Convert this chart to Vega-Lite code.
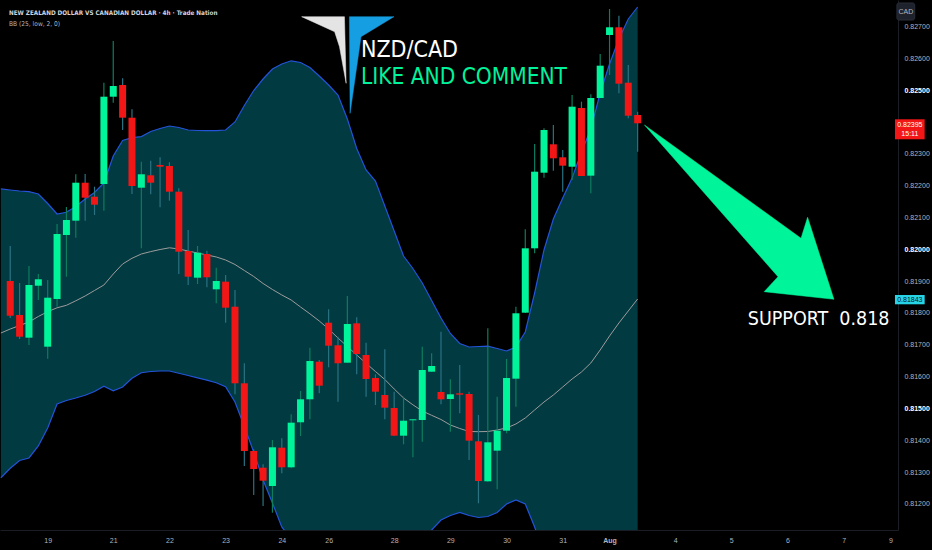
{
  "$schema": "https://vega.github.io/schema/vega-lite/v6.json",
  "width": 898,
  "height": 530,
  "autosize": {"type": "none"},
  "padding": {"left": 0, "top": 0, "right": 34, "bottom": 20},
  "background": "#000000",
  "config": {
    "view": {"stroke": null},
    "axis": {"labelFont": "Liberation Sans", "grid": false, "ticks": false, "title": null, "labelOverlap": false},
    "text": {"font": "DejaVu Sans Condensed"}
  },
  "datasets": {
    "bands": [
      {"i": -1, "up": 0.82190, "mid": 0.81737, "lo": 0.81282},
      {"i": 0, "up": 0.821866, "mid": 0.817496, "lo": 0.813117},
      {"i": 1, "up": 0.821835, "mid": 0.817606, "lo": 0.813362},
      {"i": 2, "up": 0.821813, "mid": 0.817716, "lo": 0.813441},
      {"i": 3, "up": 0.821740, "mid": 0.817889, "lo": 0.813818},
      {"i": 4, "up": 0.821442, "mid": 0.818040, "lo": 0.814384},
      {"i": 5, "up": 0.821111, "mid": 0.818163, "lo": 0.815138},
      {"i": 6, "up": 0.821165, "mid": 0.818241, "lo": 0.815249},
      {"i": 7, "up": 0.821347, "mid": 0.818383, "lo": 0.815327},
      {"i": 8, "up": 0.821583, "mid": 0.818534, "lo": 0.815412},
      {"i": 9, "up": 0.821787, "mid": 0.818707, "lo": 0.815531},
      {"i": 10, "up": 0.822086, "mid": 0.818879, "lo": 0.815695},
      {"i": 11, "up": 0.822935, "mid": 0.819225, "lo": 0.815553},
      {"i": 12, "up": 0.823422, "mid": 0.819540, "lo": 0.815673},
      {"i": 13, "up": 0.823510, "mid": 0.819719, "lo": 0.815946},
      {"i": 14, "up": 0.823545, "mid": 0.819854, "lo": 0.816122},
      {"i": 15, "up": 0.823705, "mid": 0.819929, "lo": 0.816160},
      {"i": 16, "up": 0.823799, "mid": 0.819995, "lo": 0.816176},
      {"i": 17, "up": 0.823878, "mid": 0.820049, "lo": 0.816176},
      {"i": 18, "up": 0.823831, "mid": 0.820011, "lo": 0.816104},
      {"i": 19, "up": 0.823752, "mid": 0.819948, "lo": 0.816034},
      {"i": 20, "up": 0.823736, "mid": 0.819885, "lo": 0.815962},
      {"i": 21, "up": 0.823730, "mid": 0.819823, "lo": 0.815887},
      {"i": 22, "up": 0.823730, "mid": 0.819760, "lo": 0.815805},
      {"i": 23, "up": 0.823752, "mid": 0.819665, "lo": 0.815679},
      {"i": 24, "up": 0.824004, "mid": 0.819524, "lo": 0.815201},
      {"i": 25, "up": 0.824522, "mid": 0.819335, "lo": 0.814431},
      {"i": 26, "up": 0.824994, "mid": 0.819147, "lo": 0.813629},
      {"i": 27, "up": 0.825355, "mid": 0.818927, "lo": 0.812749},
      {"i": 28, "up": 0.825670, "mid": 0.818738, "lo": 0.812026},
      {"i": 29, "up": 0.825827, "mid": 0.818565, "lo": 0.811272},
      {"i": 30, "up": 0.825928, "mid": 0.818408, "lo": 0.810894},
      {"i": 31, "up": 0.825874, "mid": 0.818188, "lo": 0.810502},
      {"i": 32, "up": 0.825717, "mid": 0.817974, "lo": 0.810234},
      {"i": 33, "up": 0.825450, "mid": 0.817748, "lo": 0.810046},
      {"i": 34, "up": 0.825167, "mid": 0.817496, "lo": 0.809826},
      {"i": 35, "up": 0.824852, "mid": 0.817213, "lo": 0.809574},
      {"i": 36, "up": 0.824098, "mid": 0.816946, "lo": 0.809794},
      {"i": 37, "up": 0.823171, "mid": 0.816679, "lo": 0.810187},
      {"i": 38, "up": 0.822495, "mid": 0.816418, "lo": 0.810341},
      {"i": 39, "up": 0.822149, "mid": 0.816160, "lo": 0.810171},
      {"i": 40, "up": 0.821363, "mid": 0.815909, "lo": 0.810454},
      {"i": 41, "up": 0.820577, "mid": 0.815610, "lo": 0.810643},
      {"i": 42, "up": 0.819791, "mid": 0.815327, "lo": 0.810863},
      {"i": 43, "up": 0.819398, "mid": 0.815113, "lo": 0.810832},
      {"i": 44, "up": 0.818942, "mid": 0.814918, "lo": 0.810894},
      {"i": 45, "up": 0.818392, "mid": 0.814783, "lo": 0.811177},
      {"i": 46, "up": 0.817842, "mid": 0.814651, "lo": 0.811492},
      {"i": 47, "up": 0.817355, "mid": 0.814478, "lo": 0.811633},
      {"i": 48, "up": 0.817040, "mid": 0.814368, "lo": 0.811728},
      {"i": 49, "up": 0.816930, "mid": 0.814274, "lo": 0.811633},
      {"i": 50, "up": 0.816946, "mid": 0.814268, "lo": 0.811570},
      {"i": 51, "up": 0.816956, "mid": 0.814274, "lo": 0.811602},
      {"i": 52, "up": 0.816883, "mid": 0.814321, "lo": 0.811728},
      {"i": 53, "up": 0.816805, "mid": 0.814384, "lo": 0.811995},
      {"i": 54, "up": 0.816930, "mid": 0.814510, "lo": 0.812120},
      {"i": 55, "up": 0.817402, "mid": 0.814698, "lo": 0.811995},
      {"i": 56, "up": 0.818628, "mid": 0.814950, "lo": 0.811272},
      {"i": 57, "up": 0.819980, "mid": 0.815201, "lo": 0.810423},
      {"i": 58, "up": 0.820954, "mid": 0.815421, "lo": 0.809888},
      {"i": 59, "up": 0.821614, "mid": 0.815673, "lo": 0.809731},
      {"i": 60, "up": 0.822243, "mid": 0.815924, "lo": 0.809606},
      {"i": 61, "up": 0.823061, "mid": 0.816144, "lo": 0.809228},
      {"i": 62, "up": 0.823784, "mid": 0.816427, "lo": 0.809071},
      {"i": 63, "up": 0.824915, "mid": 0.816836, "lo": 0.808757},
      {"i": 64, "up": 0.825827, "mid": 0.817276, "lo": 0.808725},
      {"i": 65, "up": 0.826613, "mid": 0.817685, "lo": 0.808757},
      {"i": 66, "up": 0.827242, "mid": 0.818062, "lo": 0.808882},
      {"i": 67, "up": 0.827619, "mid": 0.818439, "lo": 0.809260}
    ],
    "candles": [
      {"i": 0, "o": 0.819005, "h": 0.820105, "l": 0.817842, "c": 0.817914},
      {"i": 1, "o": 0.817936, "h": 0.818942, "l": 0.817182, "c": 0.817254},
      {"i": 2, "o": 0.817223, "h": 0.819477, "l": 0.816993, "c": 0.818879},
      {"i": 3, "o": 0.818857, "h": 0.819225, "l": 0.818408, "c": 0.819059},
      {"i": 4, "o": 0.816940, "h": 0.819037, "l": 0.816563, "c": 0.818480},
      {"i": 5, "o": 0.818439, "h": 0.820797, "l": 0.818197, "c": 0.820483},
      {"i": 6, "o": 0.820451, "h": 0.821332, "l": 0.819140, "c": 0.820923},
      {"i": 7, "o": 0.820901, "h": 0.822360, "l": 0.820366, "c": 0.822095},
      {"i": 8, "o": 0.822095, "h": 0.822369, "l": 0.820901, "c": 0.821624},
      {"i": 9, "o": 0.821655, "h": 0.821970, "l": 0.821080, "c": 0.821404},
      {"i": 10, "o": 0.822055, "h": 0.825239, "l": 0.821215, "c": 0.824799},
      {"i": 11, "o": 0.824799, "h": 0.826550, "l": 0.824610, "c": 0.825135},
      {"i": 12, "o": 0.825167, "h": 0.825378, "l": 0.823752, "c": 0.824139},
      {"i": 13, "o": 0.824139, "h": 0.824403, "l": 0.821740, "c": 0.821992},
      {"i": 14, "o": 0.821938, "h": 0.822756, "l": 0.820033, "c": 0.822360},
      {"i": 15, "o": 0.822328, "h": 0.822787, "l": 0.821731, "c": 0.822095},
      {"i": 16, "o": 0.822652, "h": 0.822894, "l": 0.821322, "c": 0.822598},
      {"i": 17, "o": 0.822620, "h": 0.822737, "l": 0.821530, "c": 0.821813},
      {"i": 18, "o": 0.821813, "h": 0.821919, "l": 0.819225, "c": 0.819926},
      {"i": 19, "o": 0.819948, "h": 0.820608, "l": 0.818879, "c": 0.819140},
      {"i": 20, "o": 0.819109, "h": 0.820105, "l": 0.818911, "c": 0.819895},
      {"i": 21, "o": 0.819854, "h": 0.819958, "l": 0.818807, "c": 0.819122},
      {"i": 22, "o": 0.818744, "h": 0.819423, "l": 0.818304, "c": 0.819005},
      {"i": 23, "o": 0.818983, "h": 0.819194, "l": 0.817694, "c": 0.818166},
      {"i": 24, "o": 0.818197, "h": 0.818722, "l": 0.815443, "c": 0.815789},
      {"i": 25, "o": 0.815789, "h": 0.816418, "l": 0.813189, "c": 0.813661},
      {"i": 26, "o": 0.813661, "h": 0.813714, "l": 0.812278, "c": 0.813095},
      {"i": 27, "o": 0.813136, "h": 0.813243, "l": 0.811932, "c": 0.812727},
      {"i": 28, "o": 0.812561, "h": 0.814007, "l": 0.811721, "c": 0.813777},
      {"i": 29, "o": 0.813765, "h": 0.814060, "l": 0.812960, "c": 0.813148},
      {"i": 30, "o": 0.813148, "h": 0.814815, "l": 0.813117, "c": 0.814551},
      {"i": 31, "o": 0.814563, "h": 0.815547, "l": 0.814132, "c": 0.815286},
      {"i": 32, "o": 0.815286, "h": 0.816908, "l": 0.814657, "c": 0.816490},
      {"i": 33, "o": 0.816468, "h": 0.816522, "l": 0.815475, "c": 0.815714},
      {"i": 34, "o": 0.817694, "h": 0.818116, "l": 0.816292, "c": 0.816971},
      {"i": 35, "o": 0.816984, "h": 0.817254, "l": 0.815211, "c": 0.816418},
      {"i": 36, "o": 0.816437, "h": 0.818534, "l": 0.816437, "c": 0.817653},
      {"i": 37, "o": 0.817675, "h": 0.817864, "l": 0.816072, "c": 0.816710},
      {"i": 38, "o": 0.816679, "h": 0.817066, "l": 0.815368, "c": 0.815924},
      {"i": 39, "o": 0.815956, "h": 0.816072, "l": 0.815107, "c": 0.815525},
      {"i": 40, "o": 0.815421, "h": 0.816858, "l": 0.814657, "c": 0.815022},
      {"i": 41, "o": 0.815013, "h": 0.815525, "l": 0.814132, "c": 0.814142},
      {"i": 42, "o": 0.814142, "h": 0.815368, "l": 0.813872, "c": 0.814613},
      {"i": 43, "o": 0.814626, "h": 0.814657, "l": 0.813463, "c": 0.814657},
      {"i": 44, "o": 0.814635, "h": 0.816940, "l": 0.813953, "c": 0.816207},
      {"i": 45, "o": 0.816154, "h": 0.816732, "l": 0.816154, "c": 0.816333},
      {"i": 46, "o": 0.815516, "h": 0.817411, "l": 0.815129, "c": 0.815286},
      {"i": 47, "o": 0.815296, "h": 0.815915, "l": 0.814268, "c": 0.815443},
      {"i": 48, "o": 0.815475, "h": 0.816364, "l": 0.814846, "c": 0.815431},
      {"i": 49, "o": 0.815453, "h": 0.815525, "l": 0.813378, "c": 0.813985},
      {"i": 50, "o": 0.813966, "h": 0.814793, "l": 0.812017, "c": 0.812718},
      {"i": 51, "o": 0.812708, "h": 0.817518, "l": 0.812696, "c": 0.813934},
      {"i": 52, "o": 0.813671, "h": 0.815368, "l": 0.812457, "c": 0.814299},
      {"i": 53, "o": 0.814299, "h": 0.816553, "l": 0.814217, "c": 0.815956},
      {"i": 54, "o": 0.815934, "h": 0.818197, "l": 0.815054, "c": 0.817990},
      {"i": 55, "o": 0.818009, "h": 0.820630, "l": 0.817999, "c": 0.820033},
      {"i": 56, "o": 0.820033, "h": 0.823312, "l": 0.819876, "c": 0.822441},
      {"i": 57, "o": 0.822410, "h": 0.823806, "l": 0.822253, "c": 0.823752},
      {"i": 58, "o": 0.823303, "h": 0.823909, "l": 0.822473, "c": 0.822863},
      {"i": 59, "o": 0.822894, "h": 0.823123, "l": 0.821813, "c": 0.822630},
      {"i": 60, "o": 0.822598, "h": 0.824852, "l": 0.822180, "c": 0.824485},
      {"i": 61, "o": 0.824444, "h": 0.824642, "l": 0.822306, "c": 0.822306},
      {"i": 62, "o": 0.822316, "h": 0.824875, "l": 0.821762, "c": 0.824758},
      {"i": 63, "o": 0.824758, "h": 0.826141, "l": 0.824758, "c": 0.825774},
      {"i": 64, "o": 0.826739, "h": 0.827556, "l": 0.825481, "c": 0.826981},
      {"i": 65, "o": 0.826981, "h": 0.827345, "l": 0.824906, "c": 0.825208},
      {"i": 66, "o": 0.825239, "h": 0.825796, "l": 0.824120, "c": 0.824202},
      {"i": 67, "o": 0.824224, "h": 0.824328, "l": 0.823070, "c": 0.823963}
    ],
    "logoWhite": [
      {"k": 0, "i": 31.12, "v": 0.827314},
      {"k": 1, "i": 35.69, "v": 0.827314},
      {"k": 2, "i": 35.87, "v": 0.825220},
      {"k": 3, "i": 35.16, "v": 0.826371},
      {"k": 4, "i": 34.64, "v": 0.826842}
    ],
    "logoBlue": [
      {"k": 0, "i": 36.22, "v": 0.827314},
      {"k": 1, "i": 40.97, "v": 0.827314},
      {"k": 2, "i": 37.46, "v": 0.826685},
      {"k": 3, "i": 36.29, "v": 0.824277}
    ],
    "arrow": [
      {"k": 0, "i": 67.73, "v": 0.823909},
      {"k": 1, "i": 84.45, "v": 0.820348},
      {"k": 2, "i": 85.15, "v": 0.821008},
      {"k": 3, "i": 87.96, "v": 0.818430},
      {"k": 4, "i": 80.51, "v": 0.818669},
      {"k": 5, "i": 81.99, "v": 0.819140}
    ]
  },
  "layer": [
    {
      "data": {"name": "bands"},
      "mark": {"type": "area", "color": "#023a41", "clip": true},
      "encoding": {
        "x": {
          "field": "i", "type": "quantitative", "title": null,
          "scale": {"domain": [-0.56, 94.27], "nice": false, "zero": false},
          "axis": {
            "values": [4, 11, 17, 23, 29, 34, 41, 47, 53, 59, 64, 71, 77, 83, 89, 94],
            "tickCount": 30,
            "labelExpr": "datum.value==4?'19':datum.value==11?'21':datum.value==17?'22':datum.value==23?'23':datum.value==29?'24':datum.value==34?'26':datum.value==41?'28':datum.value==47?'29':datum.value==53?'30':datum.value==59?'31':datum.value==64?'Aug':datum.value==71?'4':datum.value==77?'5':datum.value==83?'6':datum.value==89?'7':'9'",
            "labelFontSize": 7,
            "labelColor": "#b2b5be",
            "labelFontWeight": {"condition": {"test": "datum.value == 64", "value": "bold"}, "value": "normal"},
            "labelPadding": 6,
            "labelOverlap": false,
            "labelFlush": false,
            "domainColor": "#1a1d24"
          }
        },
        "y": {
          "field": "up", "type": "quantitative", "title": null,
          "scale": {"domain": [0.811177, 0.827839], "nice": false, "zero": false},
          "axis": {
            "orient": "right",
            "values": [0.812, 0.813, 0.814, 0.815, 0.816, 0.817, 0.818, 0.819, 0.82, 0.821, 0.822, 0.823, 0.825, 0.826, 0.827],
            "tickCount": 30,
            "format": ".5f",
            "labelFontSize": 7,
            "labelColor": {"condition": {"test": "datum.value == 0.825 || datum.value == 0.82 || datum.value == 0.815", "value": "#ffffff"}, "value": "#b2b5be"},
            "labelFontWeight": {"condition": {"test": "datum.value == 0.825 || datum.value == 0.82 || datum.value == 0.815", "value": "bold"}, "value": "normal"},
            "labelPadding": 6,
            "labelOverlap": false,
            "labelFlush": false,
            "domainColor": "#1a1d24"
          }
        },
        "y2": {"field": "lo"}
      }
    },
    {
      "data": {"name": "bands"},
      "mark": {"type": "line", "color": "#9c9c9c", "strokeWidth": 1, "clip": true},
      "encoding": {
        "x": {"field": "i", "type": "quantitative", "title": null},
        "y": {"field": "mid", "type": "quantitative", "title": null}
      }
    },
    {
      "data": {"name": "bands"},
      "mark": {"type": "line", "color": "#2354d9", "strokeWidth": 1.2, "clip": true},
      "encoding": {
        "x": {"field": "i", "type": "quantitative", "title": null},
        "y": {"field": "up", "type": "quantitative", "title": null}
      }
    },
    {
      "data": {"name": "bands"},
      "mark": {"type": "line", "color": "#2354d9", "strokeWidth": 1.2, "clip": true},
      "encoding": {
        "x": {"field": "i", "type": "quantitative", "title": null},
        "y": {"field": "lo", "type": "quantitative", "title": null}
      }
    },
    {
      "mark": {"type": "rule", "color": "#8a1c1c", "strokeWidth": 1, "strokeDash": [1, 2]},
      "encoding": {"y": {"datum": 0.82395}}
    },
    {
      "data": {"name": "candles"},
      "mark": {"type": "rule", "strokeWidth": 1.2, "clip": true},
      "encoding": {
        "x": {"field": "i", "type": "quantitative", "title": null},
        "y": {"field": "h", "type": "quantitative", "title": null},
        "y2": {"field": "l"},
        "color": {"condition": {"test": "datum.c >= datum.o", "value": "#0c7d5e"}, "value": "#2a7282"}
      }
    },
    {
      "data": {"name": "candles"},
      "mark": {"type": "bar", "width": 7, "clip": true},
      "encoding": {
        "x": {"field": "i", "type": "quantitative", "title": null},
        "y": {"field": "o", "type": "quantitative", "title": null},
        "y2": {"field": "c"},
        "color": {"condition": {"test": "datum.c >= datum.o", "value": "#00f59b"}, "value": "#f21616"}
      }
    },
    {
      "mark": {"type": "rule", "color": "#26d4e6", "strokeWidth": 2.5, "strokeDash": [10, 12.5]},
      "encoding": {"y": {"datum": 0.81843}}
    },
    {
      "data": {"name": "logoWhite"},
      "mark": {"type": "line", "interpolate": "linear-closed", "fill": "#e4e4e4", "stroke": "#e4e4e4", "strokeWidth": 0.5},
      "encoding": {
        "x": {"field": "i", "type": "quantitative", "title": null},
        "y": {"field": "v", "type": "quantitative", "title": null},
        "order": {"field": "k"}
      }
    },
    {
      "data": {"name": "logoBlue"},
      "mark": {"type": "line", "interpolate": "linear-closed", "fill": "#159fe2", "stroke": "#159fe2", "strokeWidth": 0.5},
      "encoding": {
        "x": {"field": "i", "type": "quantitative", "title": null},
        "y": {"field": "v", "type": "quantitative", "title": null},
        "order": {"field": "k"}
      }
    },
    {
      "data": {"values": [{"i": 37.45, "v": 0.826047, "t": "NZD/CAD"}]},
      "mark": {"type": "text", "align": "left", "baseline": "alphabetic", "fontSize": 23, "color": "#ffffff"},
      "encoding": {
        "x": {"field": "i", "type": "quantitative", "title": null},
        "y": {"field": "v", "type": "quantitative", "title": null},
        "text": {"field": "t"}
      }
    },
    {
      "data": {"values": [{"i": 37.45, "v": 0.825198, "t": "LIKE AND COMMENT"}]},
      "mark": {"type": "text", "align": "left", "baseline": "alphabetic", "fontSize": 22.5, "color": "#00f39a"},
      "encoding": {
        "x": {"field": "i", "type": "quantitative", "title": null},
        "y": {"field": "v", "type": "quantitative", "title": null},
        "text": {"field": "t"}
      }
    },
    {
      "data": {"values": [{"i": -0.137, "v": 0.827367, "t": "NEW ZEALAND DOLLAR VS CANADIAN DOLLAR · 4h · Trade Nation"}]},
      "mark": {"type": "text", "align": "left", "baseline": "alphabetic", "fontSize": 6.3, "fontWeight": "bold", "color": "#d1d4dc"},
      "encoding": {
        "x": {"field": "i", "type": "quantitative", "title": null},
        "y": {"field": "v", "type": "quantitative", "title": null},
        "text": {"field": "t"}
      }
    },
    {
      "data": {"values": [{"i": -0.137, "v": 0.827006, "t": "BB (25, low, 2, 0)"}]},
      "mark": {"type": "text", "align": "left", "baseline": "alphabetic", "fontSize": 6.6, "color": "#b2b5be"},
      "encoding": {
        "x": {"field": "i", "type": "quantitative", "title": null},
        "y": {"field": "v", "type": "quantitative", "title": null},
        "text": {"field": "t"}
      }
    },
    {
      "data": {"name": "arrow"},
      "mark": {"type": "line", "interpolate": "linear-closed", "fill": "#00f59b", "stroke": "#00f59b", "strokeWidth": 0.5},
      "encoding": {
        "x": {"field": "i", "type": "quantitative", "title": null},
        "y": {"field": "v", "type": "quantitative", "title": null},
        "order": {"field": "k"}
      }
    },
    {
      "data": {"values": [{"i": 93.9, "v": 0.817622, "t": "SUPPORT\u00a0 0.818"}]},
      "mark": {"type": "text", "align": "right", "baseline": "alphabetic", "fontSize": 19.5, "color": "#ffffff"},
      "encoding": {
        "x": {"field": "i", "type": "quantitative", "title": null},
        "y": {"field": "v", "type": "quantitative", "title": null},
        "text": {"field": "t"}
      }
    },
    {
      "data": {"values": [{"i": 94.69, "i2": 96.59, "v": 0.827745, "v2": 0.827210}]},
      "mark": {"type": "rect", "fill": "#1e222d", "stroke": "#2a2e39", "cornerRadius": 2},
      "encoding": {
        "x": {"field": "i", "type": "quantitative", "title": null},
        "x2": {"field": "i2"},
        "y": {"field": "v", "type": "quantitative", "title": null},
        "y2": {"field": "v2"}
      }
    },
    {
      "data": {"values": [{"i": 95.64, "v": 0.827477, "t": "CAD"}]},
      "mark": {"type": "text", "align": "center", "baseline": "middle", "fontSize": 7, "font": "Liberation Sans", "color": "#b2b5be"},
      "encoding": {
        "x": {"field": "i", "type": "quantitative", "title": null},
        "y": {"field": "v", "type": "quantitative", "title": null},
        "text": {"field": "t"}
      }
    },
    {
      "data": {"values": [{"i": 94.48, "i2": 97.65, "v": 0.824089, "v2": 0.823460}]},
      "mark": {"type": "rect", "fill": "#f21616"},
      "encoding": {
        "x": {"field": "i", "type": "quantitative", "title": null},
        "x2": {"field": "i2"},
        "y": {"field": "v", "type": "quantitative", "title": null},
        "y2": {"field": "v2"}
      }
    },
    {
      "data": {"values": [{"i": 96.07, "v": 0.823925, "t": "0.82395"}, {"i": 96.07, "v": 0.823626, "t": "15:11"}]},
      "mark": {"type": "text", "align": "center", "baseline": "middle", "fontSize": 7, "font": "Liberation Sans", "color": "#ffffff"},
      "encoding": {
        "x": {"field": "i", "type": "quantitative", "title": null},
        "y": {"field": "v", "type": "quantitative", "title": null},
        "text": {"field": "t"}
      }
    },
    {
      "data": {"values": [{"i": 94.48, "i2": 97.65, "v": 0.818565, "v2": 0.818273}]},
      "mark": {"type": "rect", "fill": "#26d4e6"},
      "encoding": {
        "x": {"field": "i", "type": "quantitative", "title": null},
        "x2": {"field": "i2"},
        "y": {"field": "v", "type": "quantitative", "title": null},
        "y2": {"field": "v2"}
      }
    },
    {
      "data": {"values": [{"i": 96.07, "v": 0.818419, "t": "0.81843"}]},
      "mark": {"type": "text", "align": "center", "baseline": "middle", "fontSize": 7, "font": "Liberation Sans", "color": "#0a1620"},
      "encoding": {
        "x": {"field": "i", "type": "quantitative", "title": null},
        "y": {"field": "v", "type": "quantitative", "title": null},
        "text": {"field": "t"}
      }
    }
  ]
}
